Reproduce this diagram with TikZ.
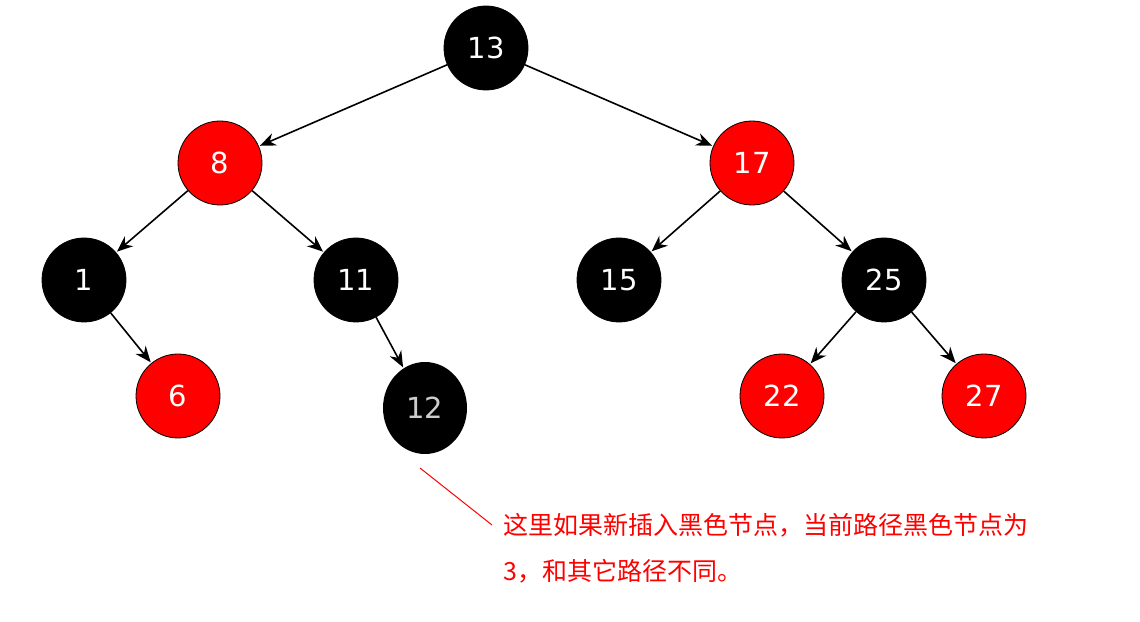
\documentclass[tikz,border=0pt]{standalone}
\usepackage{fontspec}
\setmainfont{DejaVu Sans}
\newfontfamily\cjk{Noto Sans CJK SC}
\usetikzlibrary{arrows.meta,shapes.geometric}
\definecolor{rbred}{RGB}{255,0,0}
\begin{document}
\begin{tikzpicture}[x=1pt,y=1pt,
  nd/.style={circle,minimum size=84pt,inner sep=0pt,draw=black,line width=0.8pt,text=white,font=\fontsize{29}{32}\selectfont},
  bk/.style={nd,fill=black},
  rd/.style={nd,fill=rbred},
  ed/.style={-{Stealth[length=16pt,width=13pt]},line width=1.6pt,shorten >=1pt}]
\useasboundingbox (0,0) rectangle (1140,621);
\node[bk] (n13) at (486,573) {13};
\node[rd] (n8) at (220,458) {8};
\node[rd] (n17) at (752,458) {17};
\node[bk] (n1) at (84,341) {1};
\node[bk] (n11) at (356,341) {11};
\node[bk] (n15) at (619,341) {15};
\node[bk] (n25) at (884,341) {25};
\node[rd] (n6) at (178,225) {6};
\node[ellipse,fill=black,minimum width=84pt,minimum height=92pt,inner sep=0pt,text=white!80!black,font=\fontsize{29}{32}\selectfont] (n12) at (425,213) {12};
\node[rd] (n22) at (782,225) {22};
\node[rd] (n27) at (984,225) {27};
\draw[ed] (n13) -- (n8);
\draw[ed] (n13) -- (n17);
\draw[ed] (n8) -- (n1);
\draw[ed] (n8) -- (n11);
\draw[ed] (n17) -- (n15);
\draw[ed] (n17) -- (n25);
\draw[ed] (n1) -- (n6);
\draw[ed] (n11) -- (n12);
\draw[ed] (n25) -- (n22);
\draw[ed] (n25) -- (n27);
\coordinate (c1) at (420,153);
\coordinate (c2) at (492,96);
\draw[rbred,line width=1pt] (c1) -- (c2);
\node[anchor=north west,text=rbred,font=\cjk\fontsize{25}{46}\selectfont,align=left,inner sep=0pt] (t) at (503,108) {这里如果新插入黑色节点，当前路径黑色节点为\\3，和其它路径不同。};
\end{tikzpicture}
\end{document}
